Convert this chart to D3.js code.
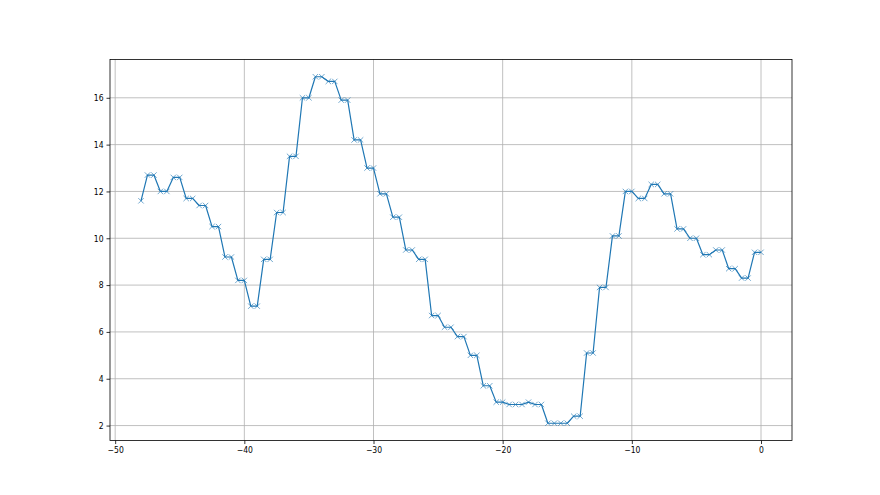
<!DOCTYPE html>
<html>
<head>
<meta charset="utf-8">
<script src="https://cdn.jsdelivr.net/npm/d3@7"></script>
<style>
  body { margin: 0; background: #fff; }
  svg { display: block; }
  .tick text { font-family: "DejaVu Sans Condensed", "DejaVu Sans", sans-serif; font-size: 8.5px; fill: #000; }
</style>
</head>
<body>
<svg width="880" height="495"></svg>
<script>
// x positions of the samples
const xValues = [
  -48, -47.5, -47, -46.5, -46, -45.5, -45, -44.5, -44, -43.5, -43, -42.5, -42,
  -41.5, -41, -40.5, -40, -39.5, -39, -38.5, -38, -37.5, -37, -36.5, -36,
  -35.5, -35, -34.5, -34, -33.5, -33, -32.5, -32, -31.5, -31, -30.5, -30,
  -29.5, -29, -28.5, -28, -27.5, -27, -26.5, -26, -25.5, -25, -24.5, -24,
  -23.5, -23, -22.5, -22, -21.5, -21, -20.5, -20, -19.5, -19, -18.5, -18,
  -17.5, -17, -16.5, -16, -15.5, -15, -14.5, -14, -13.5, -13, -12.5, -12,
  -11.5, -11, -10.5, -10, -9.5, -9, -8.5, -8, -7.5, -7, -6.5, -6,
  -5.5, -5, -4.5, -4, -3.5, -3, -2.5, -2, -1.5, -1, -0.5, 0
]

const yValues = [
  11.6, 12.7, 12.7, 12.0, 12.0, 12.6, 12.6, 11.7, 11.7, 11.4, 11.4, 10.5, 10.5,
  9.2, 9.2, 8.2, 8.2, 7.1, 7.1, 9.1, 9.1, 11.1, 11.1, 13.5, 13.5,
  16.0, 16.0, 16.9, 16.9, 16.7, 16.7, 15.9, 15.9, 14.2, 14.2, 13.0, 13.0,
  11.9, 11.9, 10.9, 10.9, 9.5, 9.5, 9.1, 9.1, 6.7, 6.7, 6.2, 6.2,
  5.8, 5.8, 5.0, 5.0, 3.7, 3.7, 3.0, 3.0, 2.9, 2.9, 2.9, 3.0,
  2.9, 2.9, 2.1, 2.1, 2.1, 2.1, 2.4, 2.4, 5.1, 5.1, 7.9, 7.9,
  10.1, 10.1, 12.0, 12.0, 11.7, 11.7, 12.3, 12.3, 11.9, 11.9, 10.4, 10.4,
  10.0, 10.0, 9.3, 9.3, 9.5, 9.5, 8.7, 8.7, 8.3, 8.3, 9.4, 9.4
]

const xTicks = [-50, -40, -30, -20, -10, 0]
const yTicks = [2, 4, 6, 8, 10, 12, 14, 16]

const points = xValues.map((x, i) => ({x: x, y: yValues[i]}))

const plotL = 110, plotR = 792, plotT = 59.4, plotB = 440.55
const svg = d3.select('svg')

// matplotlib style 5% margins
const xMin = d3.min(xValues), xMax = d3.max(xValues)
const yMin = d3.min(yValues), yMax = d3.max(yValues)
const xPad = (xMax - xMin) * 0.05, yPad = (yMax - yMin) * 0.05

const xScale = d3.scaleLinear().domain([xMin - xPad, xMax + xPad]).range([plotL, plotR])
const yScale = d3.scaleLinear().domain([yMin - yPad, yMax + yPad]).range([plotB, plotT])

// grid
svg.append('g')
  .selectAll('line')
  .data(xTicks)
  .enter()
  .append('line')
  .attr('x1', d => xScale(d)).attr('x2', d => xScale(d))
  .attr('y1', plotT).attr('y2', plotB)
  .attr('stroke', '#b0b0b0').attr('stroke-width', 0.8)

svg.append('g')
  .selectAll('line')
  .data(yTicks)
  .enter()
  .append('line')
  .attr('x1', plotL).attr('x2', plotR)
  .attr('y1', d => yScale(d)).attr('y2', d => yScale(d))
  .attr('stroke', '#b0b0b0').attr('stroke-width', 0.8)

// line + x markers
const line = d3.line().x(d => xScale(d.x)).y(d => yScale(d.y))

svg.append('path')
  .datum(points)
  .attr('d', line)
  .attr('fill', 'none')
  .attr('stroke', '#1f77b4')
  .attr('stroke-width', 1.2)
  .attr('stroke-linejoin', 'round')

const m = 2.7
svg.append('g')
  .selectAll('path')
  .data(points)
  .enter()
  .append('path')
  .attr('d', d => {
    const cx = xScale(d.x), cy = yScale(d.y)
    return `M${cx - m},${cy - m}L${cx + m},${cy + m}M${cx - m},${cy + m}L${cx + m},${cy - m}`
  })
  .attr('stroke', '#1f77b4')
  .attr('stroke-width', 0.9)
  .attr('opacity', 0.7)

// axes
svg.append('g')
  .attr('transform', `translate(0,${plotB})`)
  .call(d3.axisBottom(xScale).tickValues(xTicks).tickSize(3.5).tickPadding(3)
    .tickFormat(d => d < 0 ? '\u2212' + Math.abs(d) : d))
svg.append('g')
  .attr('transform', `translate(${plotL},0)`)
  .call(d3.axisLeft(yScale).tickValues(yTicks).tickSize(3.5).tickPadding(3))

svg.selectAll('.domain').remove()
svg.selectAll('.tick line').attr('stroke', '#000').attr('stroke-width', 0.8)

// spines
svg.append('rect')
  .attr('x', plotL).attr('y', plotT)
  .attr('width', plotR - plotL).attr('height', plotB - plotT)
  .attr('fill', 'none')
  .attr('stroke', '#000')
  .attr('stroke-width', 0.8)
</script>
</body>
</html>
